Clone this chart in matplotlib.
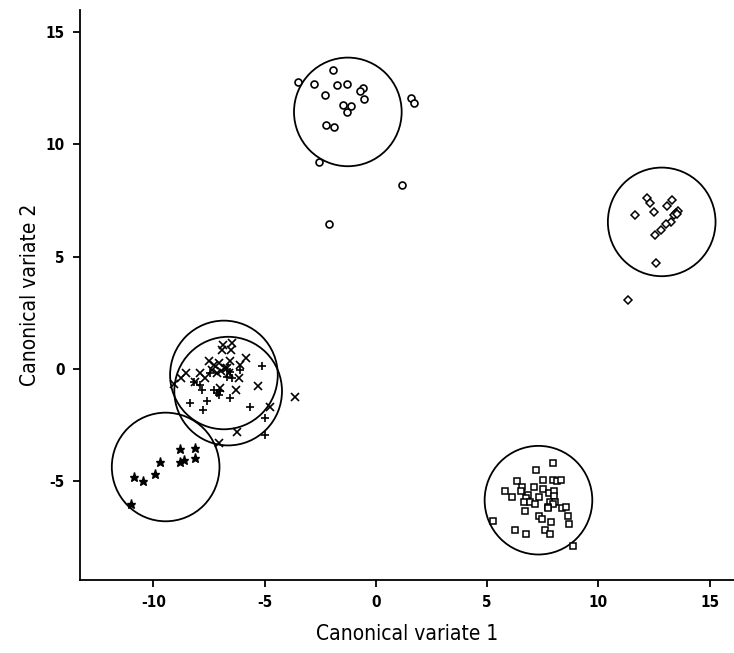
import numpy as np
import matplotlib
matplotlib.use("Agg")
import matplotlib.pyplot as plt
from matplotlib.patches import Circle

# group means (circle centres) and the common circle radius
centres_x = [-1.26, 12.85, -6.83, -6.64, -9.45, 7.31]
centres_y = [11.45, 6.55, -0.27, -0.99, -4.37, -5.85]
radius = 2.42

# group 1: open circles
circ_x = [-3.51, -1.94, -2.78, -1.75, -1.31, -0.60, -0.72, -2.29, -0.52, 1.60,
          1.70, -1.47, -1.12, -1.30, -2.26, -1.87, -2.57, 1.18, -2.11]
circ_y = [12.80, 13.30, 12.70, 12.63, 12.70, 12.50, 12.38, 12.20, 12.01, 12.05,
          11.84, 11.74, 11.70, 11.46, 10.85, 10.79, 9.22, 8.18, 6.46]

# group 2: diamonds
diam_x = [12.17, 12.33, 13.33, 13.08, 11.65, 12.50, 13.60, 13.48, 13.41, 13.55,
          13.27, 13.04, 12.80, 12.56, 12.59, 11.33]
diam_y = [7.62, 7.37, 7.53, 7.25, 6.85, 7.00, 7.02, 6.95, 6.85, 6.92,
          6.53, 6.46, 6.21, 5.95, 4.73, 3.08]

# group 3: crosses
cross_x = [-6.85, -6.47, -6.92, -6.50, -5.83, -7.49, -7.07, -6.55, -6.10, -7.37,
           -6.70, -7.89, -8.52, -8.76, -9.09, -8.12, -7.67, -6.17, -5.30, -7.00,
           -6.28, -3.63, -4.75, -6.25, -7.07, -7.29, -7.14, -6.62, -6.95, -6.80]
cross_y = [1.08, 1.15, 0.85, 0.85, 0.48, 0.33, 0.25, 0.33, 0.18, -0.04,
           0.03, -0.19, -0.19, -0.42, -0.67, -0.57, -0.42, -0.42, -0.76, -0.86,
           -0.94, -1.24, -1.68, -2.80, -3.29, 0.18, -0.19, -0.19, -0.10, 0.05]

# group 4: plus signs
plus_x = [-5.13, -6.10, -6.47, -7.82, -6.55, -7.07, -8.34, -7.59, -7.79, -5.65,
          -4.98, -4.98, -8.19, -7.89, -7.29, -7.14, -6.70, -6.55, -7.44, -7.00]
plus_y = [0.13, -0.04, -0.42, -0.94, -1.31, -1.16, -1.50, -1.42, -1.83, -1.68,
          -2.20, -2.95, -0.57, -0.71, -0.94, -1.08, -0.34, -0.12, -0.19, -1.00]

# group 5: stars
star_x = [-8.80, -8.15, -8.15, -8.64, -8.79, -9.72, -9.94, -10.87, -10.48, -11.02]
star_y = [-3.59, -3.51, -3.99, -4.08, -4.15, -4.17, -4.69, -4.82, -4.99, -6.00]

# group 6: squares
sq_x = [7.97, 7.22, 6.35, 7.52, 7.98, 8.13, 8.34, 6.56, 7.13, 5.80,
        6.53, 7.53, 7.80, 7.99, 6.86, 6.14, 7.32, 7.99, 6.73, 6.65,
        6.91, 7.16, 7.82, 8.04, 7.95, 7.76, 8.37, 8.56, 6.71, 7.73,
        8.64, 7.35, 7.47, 7.86, 5.26, 8.67, 6.26, 7.61, 6.77, 7.85, 8.88]
sq_y = [-4.18, -4.52, -4.99, -4.93, -4.93, -5.01, -4.97, -5.25, -5.28, -5.42,
        -5.43, -5.37, -5.51, -5.45, -5.63, -5.73, -5.73, -5.67, -5.77, -5.95,
        -5.94, -6.03, -5.95, -5.91, -6.03, -6.15, -6.19, -6.16, -6.35, -6.22,
        -6.56, -6.56, -6.67, -6.83, -6.79, -6.91, -7.16, -7.16, -7.37, -7.34, -7.90]

x_ticks = [-10, -5, 0, 5, 10, 15]
y_ticks = [-5, 0, 5, 10, 15]

plt.rcParams["font.family"] = ["DejaVu Sans"]
plt.rcParams["font.stretch"] = "condensed"

fig = plt.figure(figsize=(7.34, 6.53), dpi=100)
ax = fig.add_axes([0.109, 0.112, 0.891, 0.873])

lw = 1.3
ax.plot(circ_x, circ_y, "o", ms=5.0, mfc="white", mec="black", mew=1.2)
ax.plot(diam_x, diam_y, "D", ms=3.8, mfc="white", mec="black", mew=1.1)
ax.plot(cross_x, cross_y, "x", ms=5.5, color="black", mew=1.2)
ax.plot(plus_x, plus_y, "+", ms=5.2, color="black", mew=1.2)
ax.plot(star_x, star_y, "*", ms=6.5, color="black")
ax.plot(sq_x, sq_y, "s", ms=4.2, mfc="white", mec="black", mew=1.1)

for cx, cy in zip(centres_x, centres_y):
    ax.add_patch(Circle((cx, cy), radius, fill=False, ec="black", lw=lw))

ax.set_xlim(-13.3, 16.1)
ax.set_ylim(-9.4, 16.0)
ax.set_xticks(x_ticks)
ax.set_yticks(y_ticks)
ax.set_xticklabels([str(t) for t in x_ticks], fontsize=11, fontweight="bold")
ax.set_yticklabels([str(t) for t in y_ticks], fontsize=11, fontweight="bold")
ax.tick_params(direction="out", length=5, width=lw, pad=6)

for s in ["top", "right"]:
    ax.spines[s].set_visible(False)
for s in ["left", "bottom"]:
    ax.spines[s].set_linewidth(lw)

ax.set_xlabel("Canonical variate 1", fontsize=15, labelpad=10)
ax.set_ylabel("Canonical variate 2", fontsize=15, labelpad=4)

fig.savefig("out.png", dpi=100)
